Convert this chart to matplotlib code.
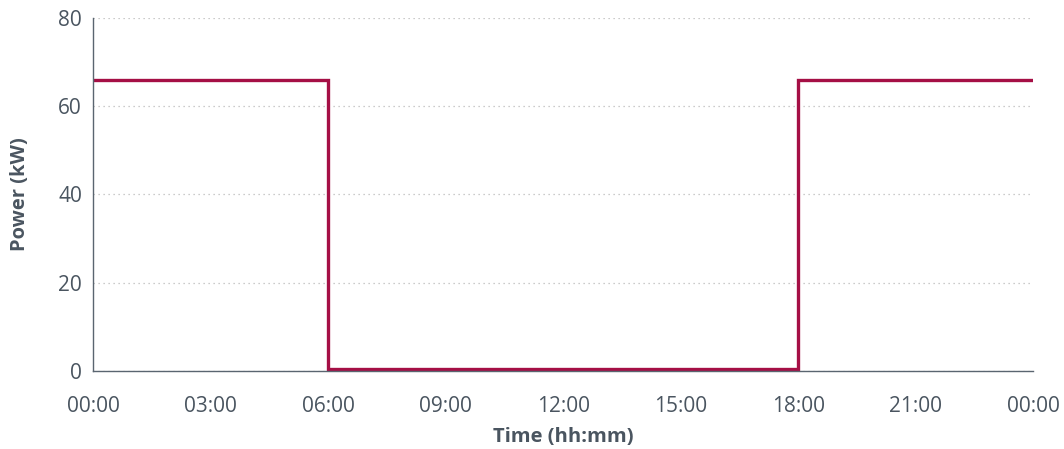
import matplotlib
matplotlib.use('Agg')
import matplotlib.pyplot as plt

plt.rcParams['font.family'] = ['Open Sans', 'DejaVu Sans']

# 数据
hours = [0, 6, 18, 24]
power_kw = [66, 0.5, 66, 66]
x_ticks = [0, 3, 6, 9, 12, 15, 18, 21, 24]
x_labels = ['00:00', '03:00', '06:00', '09:00', '12:00', '15:00', '18:00', '21:00', '00:00']
y_ticks = [0, 20, 40, 60, 80]

text_color = '#4a5560'
line_color = '#a50f45'

fig = plt.figure(figsize=(10.64, 4.49), dpi=100)
ax = fig.add_axes([0.0874, 0.1737, 0.8836, 0.7863])

ax.plot(hours, power_kw, drawstyle='steps-post', color=line_color, lw=2.4, solid_joinstyle='miter')

ax.set_xlim(0, 24)
ax.set_ylim(0, 80)
ax.set_xticks(x_ticks)
ax.set_xticklabels(x_labels)
ax.set_yticks(y_ticks)

ax.grid(axis='y', linestyle=(0, (1, 3)), color='#bbbbbb', lw=0.9)
ax.set_axisbelow(True)
for s in ['top', 'right']:
    ax.spines[s].set_visible(False)
for s in ['left', 'bottom']:
    ax.spines[s].set_color('#5a6570')
    ax.spines[s].set_linewidth(1.0)

ax.tick_params(length=0, labelsize=15, colors=text_color)
ax.tick_params(axis='y', pad=8)
ax.tick_params(axis='x', pad=18)

ax.set_xlabel('Time (hh:mm)', fontsize=14.5, fontweight='bold', color=text_color, labelpad=7)
ax.set_ylabel('Power (kW)', fontsize=14.5, fontweight='bold', color=text_color, labelpad=20)

fig.savefig('out.png', dpi=100)
